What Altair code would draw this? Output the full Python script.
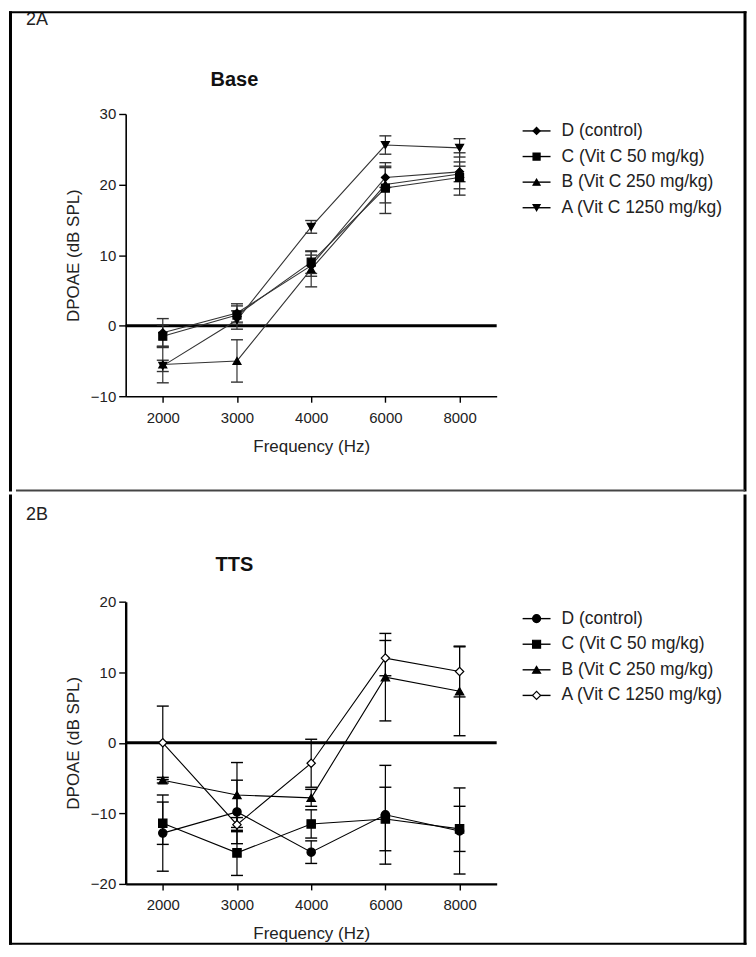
import altair as alt
import pandas as pd

FONT = "Liberation Sans"

freqs = ["2000", "3000", "4000", "6000", "8000"]
groups = ["D (control)", "C (Vit C 50 mg/kg)", "B (Vit C 250 mg/kg)", "A (Vit C 1250 mg/kg)"]

# Panel 2A - Base
base_D = [-1.0, 1.8, 8.5, 21.0, 21.8]
base_C = [-1.5, 1.5, 9.0, 19.5, 21.0]
base_B = [-5.5, -5.0, 8.0, 20.0, 21.5]
base_A = [-5.7, 0.8, 14.0, 25.6, 25.2]
base_D_err = [2.0, 1.3, 1.5, 1.4, 1.4]
base_C_err = [1.6, 1.3, 1.6, 3.6, 1.6]
base_B_err = [2.6, 3.0, 2.5, 2.6, 3.0]
base_A_err = [0.8, 1.3, 0.9, 1.3, 1.3]

# Panel 2B - TTS
tts_D = [-12.8, -9.8, -15.5, -10.2, -12.5]
tts_C = [-11.4, -15.6, -11.5, -10.8, -12.2]
tts_B = [-5.3, -7.4, -7.8, 9.3, 7.3]
tts_A = [0.0, -11.6, -2.9, 12.0, 10.1]
tts_D_err = [5.4, 4.5, 1.6, 7.0, 6.1]
tts_C_err = [3.0, 3.2, 2.0, 4.5, 3.2]
tts_B_err = [0.4, 4.6, 1.2, 6.2, 6.3]
tts_A_err = [5.2, 1.0, 3.4, 2.5, 3.6]

panel_labels = ["2A", "2B"]
panel_titles = ["Base", "TTS"]


def make_df(series, errs):
    rows = []
    for g, vals, es in zip(groups, series, errs):
        for f, v, e in zip(freqs, vals, es):
            rows.append({"group": g, "freq": f, "value": v, "lo": v - e, "hi": v + e})
    return pd.DataFrame(rows)


base_df = make_df([base_D, base_C, base_B, base_A], [base_D_err, base_C_err, base_B_err, base_A_err])
tts_df = make_df([tts_D, tts_C, tts_B, tts_A], [tts_D_err, tts_C_err, tts_B_err, tts_A_err])
legend_df = pd.DataFrame({"group": groups})
one = pd.DataFrame({"ref": [0]})

W, H = 372, 283


def panel(df, ydomain, yvalues, shapes, fills, line_color, title, label, top):
    dw = 1.6 if top else 2.4
    x = alt.X("freq:O", sort=freqs, scale=alt.Scale(type="point", padding=0.5),
              axis=alt.Axis(title="Frequency (Hz)", labelAngle=0, labelAlign="center",
                            labelBaseline="top", grid=False,
                            domainColor="black", domainWidth=dw,
                            tickColor="black", tickWidth=1.4, tickSize=6,
                            labelFont=FONT, labelFontSize=15, labelColor="#222", labelPadding=8,
                            titleFont=FONT, titleFontSize=17, titleFontWeight="normal",
                            titleColor="#222", titlePadding=13))
    xn = alt.X("freq:O", sort=freqs, scale=alt.Scale(type="point", padding=0.5))
    yscale = alt.Scale(domain=ydomain, nice=False, zero=False)
    y = alt.Y("value:Q", scale=yscale,
              axis=alt.Axis(title="DPOAE (dB SPL)", values=yvalues, grid=False,
                            domainColor="black", domainWidth=dw,
                            tickColor="black", tickWidth=1.4, tickSize=7,
                            labelFont=FONT, labelFontSize=15, labelColor="#222", labelPadding=3,
                            titleFont=FONT, titleFontSize=17, titleFontWeight="normal",
                            titleColor="#222", titlePadding=8))
    shape = alt.Shape("group:N", scale=alt.Scale(domain=groups, range=shapes), legend=None)
    fill = alt.Fill("group:N", scale=alt.Scale(domain=groups, range=fills), legend=None)

    zero = alt.Chart(one).mark_rule(color="black", strokeWidth=3).encode(
        y=alt.Y("ref:Q", scale=yscale))
    bars = alt.Chart(df).mark_rule(color=line_color, strokeWidth=1.2).encode(
        x=xn, y=alt.Y("lo:Q", scale=yscale), y2="hi:Q")
    cap_lo = alt.Chart(df).mark_tick(color=line_color, thickness=1.4, size=12, opacity=1).encode(
        x=xn, y=alt.Y("lo:Q", scale=yscale))
    cap_hi = alt.Chart(df).mark_tick(color=line_color, thickness=1.4, size=12, opacity=1).encode(
        x=xn, y=alt.Y("hi:Q", scale=yscale))
    lines = alt.Chart(df).mark_line(color=line_color, strokeWidth=1.1).encode(
        x=xn, y=alt.Y("value:Q", scale=yscale), detail="group:N")
    pts = alt.Chart(df).mark_point(filled=True, opacity=1, size=64 if top else 70, stroke="black",
                                   strokeWidth=1.2).encode(
        x=x, y=y, shape=shape, fill=fill)
    main = alt.layer(zero, bars, cap_lo, cap_hi, lines, pts)

    ly = alt.Y("group:N", sort=groups, axis=None,
               scale=alt.Scale(type="point", range=[17, 94], padding=0))
    leg_rule = alt.Chart(legend_df).mark_rule(color="black", strokeWidth=1.4).encode(
        x=alt.value(398), x2=alt.value(426), y=ly)
    leg_pt = alt.Chart(legend_df).mark_point(filled=True, opacity=1, size=50 if top else 64,
                                             stroke="black", strokeWidth=1.2).encode(
        x=alt.value(412), y=ly, shape=shape, fill=fill)
    leg_txt = alt.Chart(legend_df).mark_text(align="left", baseline="middle", font=FONT,
                                             fontSize=17.5, color="#222").encode(
        x=alt.value(437), y=ly, text="group:N")
    legend = alt.layer(leg_rule, leg_pt, leg_txt)

    pl = pd.DataFrame({"label": [label], "title": [title]})
    lab = alt.Chart(pl).mark_text(align="left", baseline="middle", font=FONT, fontSize=18,
                                  color="#222").encode(
        x=alt.value(-100), y=alt.value(-94 if top else -87), text="label:N")
    ttl = alt.Chart(pl).mark_text(align="center", baseline="middle", font=FONT, fontSize=20,
                                  fontWeight="bold", color="#111").encode(
        x=alt.value(109), y=alt.value(-34 if top else -37), text="title:N")
    if top:
        frame = [
            alt.Chart(one).mark_rule(color="black", strokeWidth=3).encode(
                x=alt.value(-115.5), y=alt.value(-103), y2=alt.value(378.5)),
            alt.Chart(one).mark_rule(color="black", strokeWidth=3).encode(
                x=alt.value(621), y=alt.value(-103), y2=alt.value(378.5)),
            alt.Chart(one).mark_rule(color="black", strokeWidth=2).encode(
                x=alt.value(-117), x2=alt.value(622.5), y=alt.value(-102)),
            alt.Chart(one).mark_rule(color="#444", strokeWidth=2).encode(
                x=alt.value(-110), x2=alt.value(621), y=alt.value(377.5)),
        ]
    else:
        frame = [
            alt.Chart(one).mark_rule(color="black", strokeWidth=3).encode(
                x=alt.value(-115.5), y=alt.value(-107.5), y2=alt.value(344)),
            alt.Chart(one).mark_rule(color="black", strokeWidth=3).encode(
                x=alt.value(621), y=alt.value(-107.5), y2=alt.value(344)),
            alt.Chart(one).mark_rule(color="black", strokeWidth=2).encode(
                x=alt.value(-117), x2=alt.value(622.5), y=alt.value(343)),
        ]
    deco = alt.layer(lab, ttl, *frame)

    return alt.layer(main, legend, deco).resolve_scale(y="independent").properties(
        width=W, height=H)


top_chart = panel(base_df, [-10, 30], [-10, 0, 10, 20, 30],
                  ["diamond", "square", "triangle-up", "triangle-down"],
                  ["black", "black", "black", "black"], "#333", panel_titles[0], panel_labels[0], True)
bot_chart = panel(tts_df, [-20, 20], [-20, -10, 0, 10, 20],
                  ["circle", "square", "triangle-up", "diamond"],
                  ["black", "black", "black", "white"], "black", panel_titles[1], panel_labels[1], False)

chart = alt.vconcat(top_chart, bot_chart, spacing=0).resolve_scale(
    shape="independent", fill="independent", x="independent", y="independent"
).properties(padding=0).configure(
    background="white", view=alt.ViewConfig(stroke=None))

chart.save("out.html", embed_options={"renderer": "svg", "actions": False})
